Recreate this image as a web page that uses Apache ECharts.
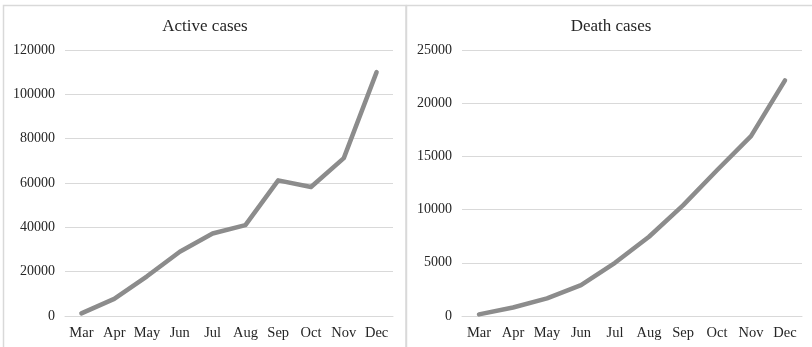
<!DOCTYPE html>
<html>
<head>
<meta charset="utf-8">
<script src="https://cdn.jsdelivr.net/npm/echarts@6/dist/echarts.min.js"></script>
<style>
  html, body { margin: 0; padding: 0; background: #ffffff; }
  #chart { width: 812px; height: 347px; }
</style>
</head>
<body>
<div id="chart"></div>
<script>
// Monthly figures, March to December
const months = ['Mar', 'Apr', 'May', 'Jun', 'Jul', 'Aug', 'Sep', 'Oct', 'Nov', 'Dec'];
const activeCases = [1200, 7700, 17900, 29000, 37200, 41000, 61200, 58200, 71200, 110000];
const deathCases = [150, 800, 1650, 2900, 5000, 7450, 10400, 13700, 16900, 22150];
const activeTicks = { min: 0, max: 120000, interval: 20000 };
const deathTicks = { min: 0, max: 25000, interval: 5000 };

const FONT = '"Liberation Serif", "Times New Roman", serif';
const TEXT = '#262626';
const GRID_LINE = '#d9d9d9';
const LINE = '#8c8c8c';

function xAxisFor(gridIndex) {
  return {
    type: 'category',
    gridIndex: gridIndex,
    data: months,
    boundaryGap: true,
    axisLine: { show: true, lineStyle: { color: GRID_LINE, width: 1 } },
    axisTick: { show: false },
    axisLabel: { interval: 0, color: TEXT, fontFamily: FONT, fontSize: 14.5, margin: 10 }
  };
}

function yAxisFor(gridIndex, ticks) {
  return {
    type: 'value',
    gridIndex: gridIndex,
    min: ticks.min,
    max: ticks.max,
    interval: ticks.interval,
    axisLine: { show: false },
    axisTick: { show: false },
    splitLine: { lineStyle: { color: GRID_LINE, width: 1 } },
    axisLabel: {
      color: TEXT, fontFamily: FONT, fontSize: 14, margin: 10,
      formatter: (v) => String(v)
    }
  };
}

function lineSeries(index, values) {
  return {
    type: 'line',
    xAxisIndex: index,
    yAxisIndex: index,
    data: values,
    symbol: 'none',
    smooth: false,
    lineStyle: { color: LINE, width: 4.5, cap: 'round', join: 'round' }
  };
}

const chart = echarts.init(document.getElementById('chart'), null, { renderer: 'canvas' });
chart.setOption({
  animation: false,
  backgroundColor: '#ffffff',
  graphic: [
    { type: 'rect', silent: true, shape: { x: 3.5, y: 5.5, width: 402.5, height: 360 },
      style: { fill: 'none', stroke: '#d9d9d9', lineWidth: 1.5 } },
    { type: 'rect', silent: true, shape: { x: 406.5, y: 5.5, width: 420, height: 360 },
      style: { fill: 'none', stroke: '#d9d9d9', lineWidth: 1.5 } }
  ],
  title: [
    { text: 'Active cases', left: 200, top: 13, textAlign: 'center',
      textStyle: { fontFamily: FONT, fontSize: 17, fontWeight: 'normal', color: TEXT } },
    { text: 'Death cases', left: 606, top: 13, textAlign: 'center',
      textStyle: { fontFamily: FONT, fontSize: 17, fontWeight: 'normal', color: TEXT } }
  ],
  grid: [
    { left: 65, top: 50, width: 328, height: 266 },
    { left: 462, top: 50, width: 340, height: 266 }
  ],
  xAxis: [xAxisFor(0), xAxisFor(1)],
  yAxis: [yAxisFor(0, activeTicks), yAxisFor(1, deathTicks)],
  series: [lineSeries(0, activeCases), lineSeries(1, deathCases)]
});
</script>
</body>
</html>
